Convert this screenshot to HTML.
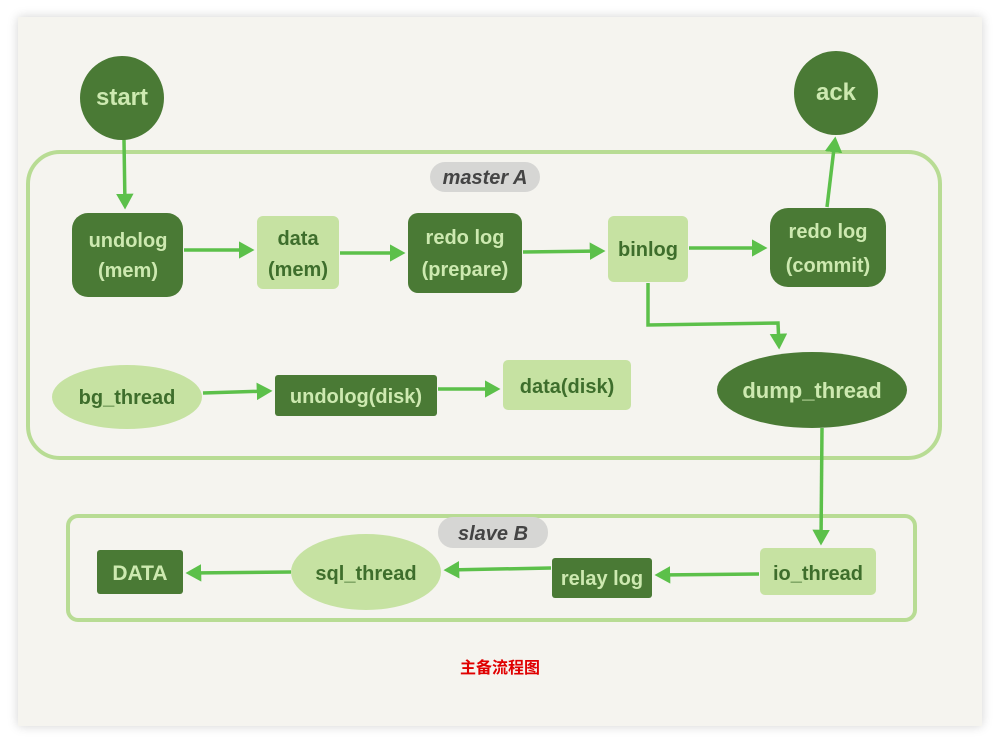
<!DOCTYPE html>
<html><head><meta charset="utf-8"><style>
html,body{margin:0;padding:0;background:#fff;width:1000px;height:744px;overflow:hidden}
.card{position:absolute;left:18px;top:17px;width:964px;height:709px;background:#f5f4ef;box-shadow:0 0 10px rgba(0,0,0,0.18)}
svg{position:absolute;left:0;top:0}
text{font-family:"Liberation Sans",sans-serif;font-weight:bold}
</style></head><body>
<div class="card"></div>
<svg width="1000" height="744" viewBox="0 0 1000 744">
<defs><marker id="a" markerWidth="5" markerHeight="5" refX="3.5" refY="2.5" orient="auto" markerUnits="strokeWidth"><path d="M0,0 L4.5,2.5 L0,5 Z" fill="#5cc04a"/></marker></defs>
<g fill="none" stroke="#b8dc94" stroke-width="4">
<rect x="28" y="152" width="912" height="306" rx="32"/>
<rect x="68" y="516" width="847" height="104" rx="10"/>
</g>
<rect x="430" y="162" width="110" height="30" rx="15" fill="#d6d6d4"/>
<text x="485" y="184" font-size="20" fill="#444" text-anchor="middle" font-style="italic">master A</text>
<rect x="438" y="517" width="110" height="31" rx="15" fill="#d6d6d4"/>
<text x="493" y="540" font-size="20" fill="#444" text-anchor="middle" font-style="italic">slave B</text>
<g stroke="#5cc04a" stroke-width="3.5" fill="none" marker-end="url(#a)">
<path d="M124 140 L125 206"/>
<path d="M184 250 L251 250"/>
<path d="M340 253 L402 253"/>
<path d="M523 252 L602 251"/>
<path d="M689 248 L764 248"/>
<path d="M827 207 L835 140"/>
<path d="M648 283 L648 325 L778 323 L779 346"/>
<path d="M203 393 L269 391"/>
<path d="M438 389 L497 389"/>
<path d="M822 428 L821 542"/>
<path d="M759 574 L658 575"/>
<path d="M551 568 L447 570"/>
<path d="M291 572 L189 573"/>
</g>
<g fill="#4a7a35">
<circle cx="122" cy="98" r="42"/>
<circle cx="836" cy="93" r="42"/>
<rect x="72" y="213" width="111" height="84" rx="16"/>
<rect x="408" y="213" width="114" height="80" rx="10"/>
<rect x="770" y="208" width="116" height="79" rx="18"/>
<rect x="275" y="375" width="162" height="41" rx="3"/>
<ellipse cx="812" cy="390" rx="95" ry="38"/>
<rect x="97" y="550" width="86" height="44" rx="3"/>
<rect x="552" y="558" width="100" height="40" rx="3"/>
</g>
<g fill="#c6e2a2">
<rect x="257" y="216" width="82" height="73" rx="6"/>
<rect x="608" y="216" width="80" height="66" rx="6"/>
<ellipse cx="127" cy="397" rx="75" ry="32"/>
<rect x="503" y="360" width="128" height="50" rx="5"/>
<ellipse cx="366" cy="572" rx="75" ry="38"/>
<rect x="760" y="548" width="116" height="47" rx="5"/>
</g>
<g fill="#cde9b0" font-size="20" text-anchor="middle">
<text x="122" y="105" font-size="24">start</text>
<text x="836" y="100" font-size="24">ack</text>
<text x="128" y="247">undolog</text><text x="128" y="277">(mem)</text>
<text x="465" y="244">redo log</text><text x="465" y="276">(prepare)</text>
<text x="828" y="238">redo log</text><text x="828" y="272">(commit)</text>
<text x="356" y="403">undolog(disk)</text>
<text x="812" y="398" font-size="22">dump_thread</text>
<text x="140" y="580" font-size="21">DATA</text>
<text x="602" y="585">relay log</text>
</g>
<g fill="#3e6e2c" font-size="20" text-anchor="middle">
<text x="298" y="245">data</text><text x="298" y="276">(mem)</text>
<text x="648" y="256">binlog</text>
<text x="127" y="404">bg_thread</text>
<text x="567" y="393">data(disk)</text>
<text x="366" y="580">sql_thread</text>
<text x="818" y="580">io_thread</text>
</g>
<text x="500" y="673" font-size="16" fill="#e00000" text-anchor="middle" style="font-family:'Liberation Sans','Noto Sans CJK SC',sans-serif;font-weight:bold">主备流程图</text>
</svg>
</body></html>
